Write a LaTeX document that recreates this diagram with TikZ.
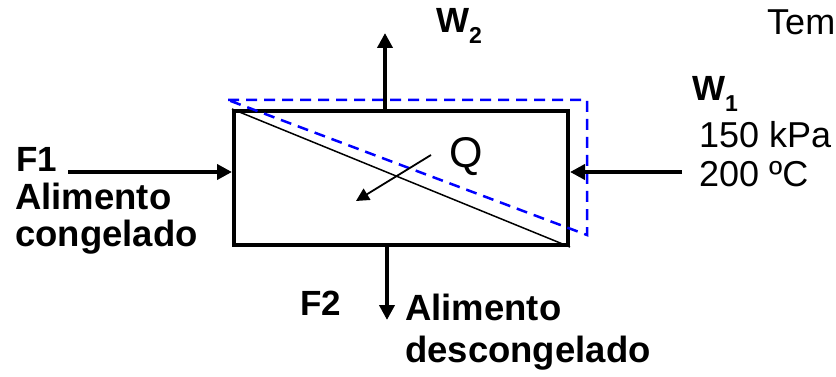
\documentclass[tikz,border=0pt]{standalone}
\usepackage{fontspec}
\setmainfont{Liberation Sans}
\usetikzlibrary{arrows.meta}
\definecolor{dashblue}{RGB}{0,0,255}
\tikzset{
  bigtxt/.style={font=\fontsize{36.5pt}{38pt}\selectfont\bfseries, inner sep=0pt, anchor=base west},
  tagtxt/.style={font=\fontsize{35pt}{38pt}\selectfont\bfseries, inner sep=0pt, anchor=base west},
  regtxt/.style={font=\fontsize{36pt}{38pt}\selectfont, inner sep=0pt, anchor=base west},
  flow/.style={line width=4pt, -{Triangle[length=15pt,width=15pt]}},
  heat/.style={line width=1.8pt, -{Triangle[length=13pt,width=13pt]}},
  unit/.style={draw, line width=4pt, minimum width=334pt, minimum height=134pt, inner sep=0pt},
  control/.style={draw=dashblue, line width=2.5pt, dash pattern=on 11pt off 7pt},
}
\newcommand{\subw}[1]{\raisebox{-11pt}{\fontsize{23pt}{23pt}\selectfont #1}}
\begin{document}
\begin{tikzpicture}[x=1pt,y=-1pt]
\useasboundingbox (0,0) rectangle (836,377);
% unit
\node[unit] (box) at (401,178) {};
\draw[line width=1.5pt] (box.north west) -- (box.south east);
% control volume
\coordinate (cv1) at (228,100);
\coordinate (cv2) at (587,100);
\coordinate (cv3) at (587,235);
\draw[control] (cv1) -- (cv2) -- (cv3) -- cycle;
% heat
\coordinate (q1) at (431,155);
\coordinate (q2) at (356,201);
\draw[heat] (q1) -- (q2);
\node[font=\fontsize{43pt}{43pt}\selectfont, inner sep=0pt, anchor=base] (Q) at (466,168) {Q};
% streams
\coordinate (f1s) at (68,172);
\draw[flow] (f1s) -- (box.west |- f1s);
\coordinate (w1s) at (682,172);
\draw[flow] (w1s) -- (box.east |- w1s);
\coordinate (w2e) at (385,33);
\draw[flow] (box.north -| w2e) -- (w2e);
\coordinate (f2e) at (387,320);
\draw[flow] (box.south -| f2e) -- (f2e);
% labels
\node[tagtxt] (W2) at (436,33) {W\subw{2}};
\node[tagtxt] (W1) at (692,101) {W\subw{1}};
\node[regtxt] (tem) at (767,35) {Tem};
\node[regtxt] (p) at (699,148) {150 kPa};
\node[regtxt] (t) at (699,186) {200 ºC};
\node[tagtxt] (F1) at (16,172) {F1};
\node[bigtxt] (a1) at (15,210) {Alimento};
\node[bigtxt] (c1) at (15,246) {congelado};
\node[tagtxt] (F2) at (300,315) {F2};
\node[bigtxt] (a2) at (405,320) {Alimento};
\node[bigtxt] (d2) at (405,362) {descongelado};
\end{tikzpicture}
\end{document}
